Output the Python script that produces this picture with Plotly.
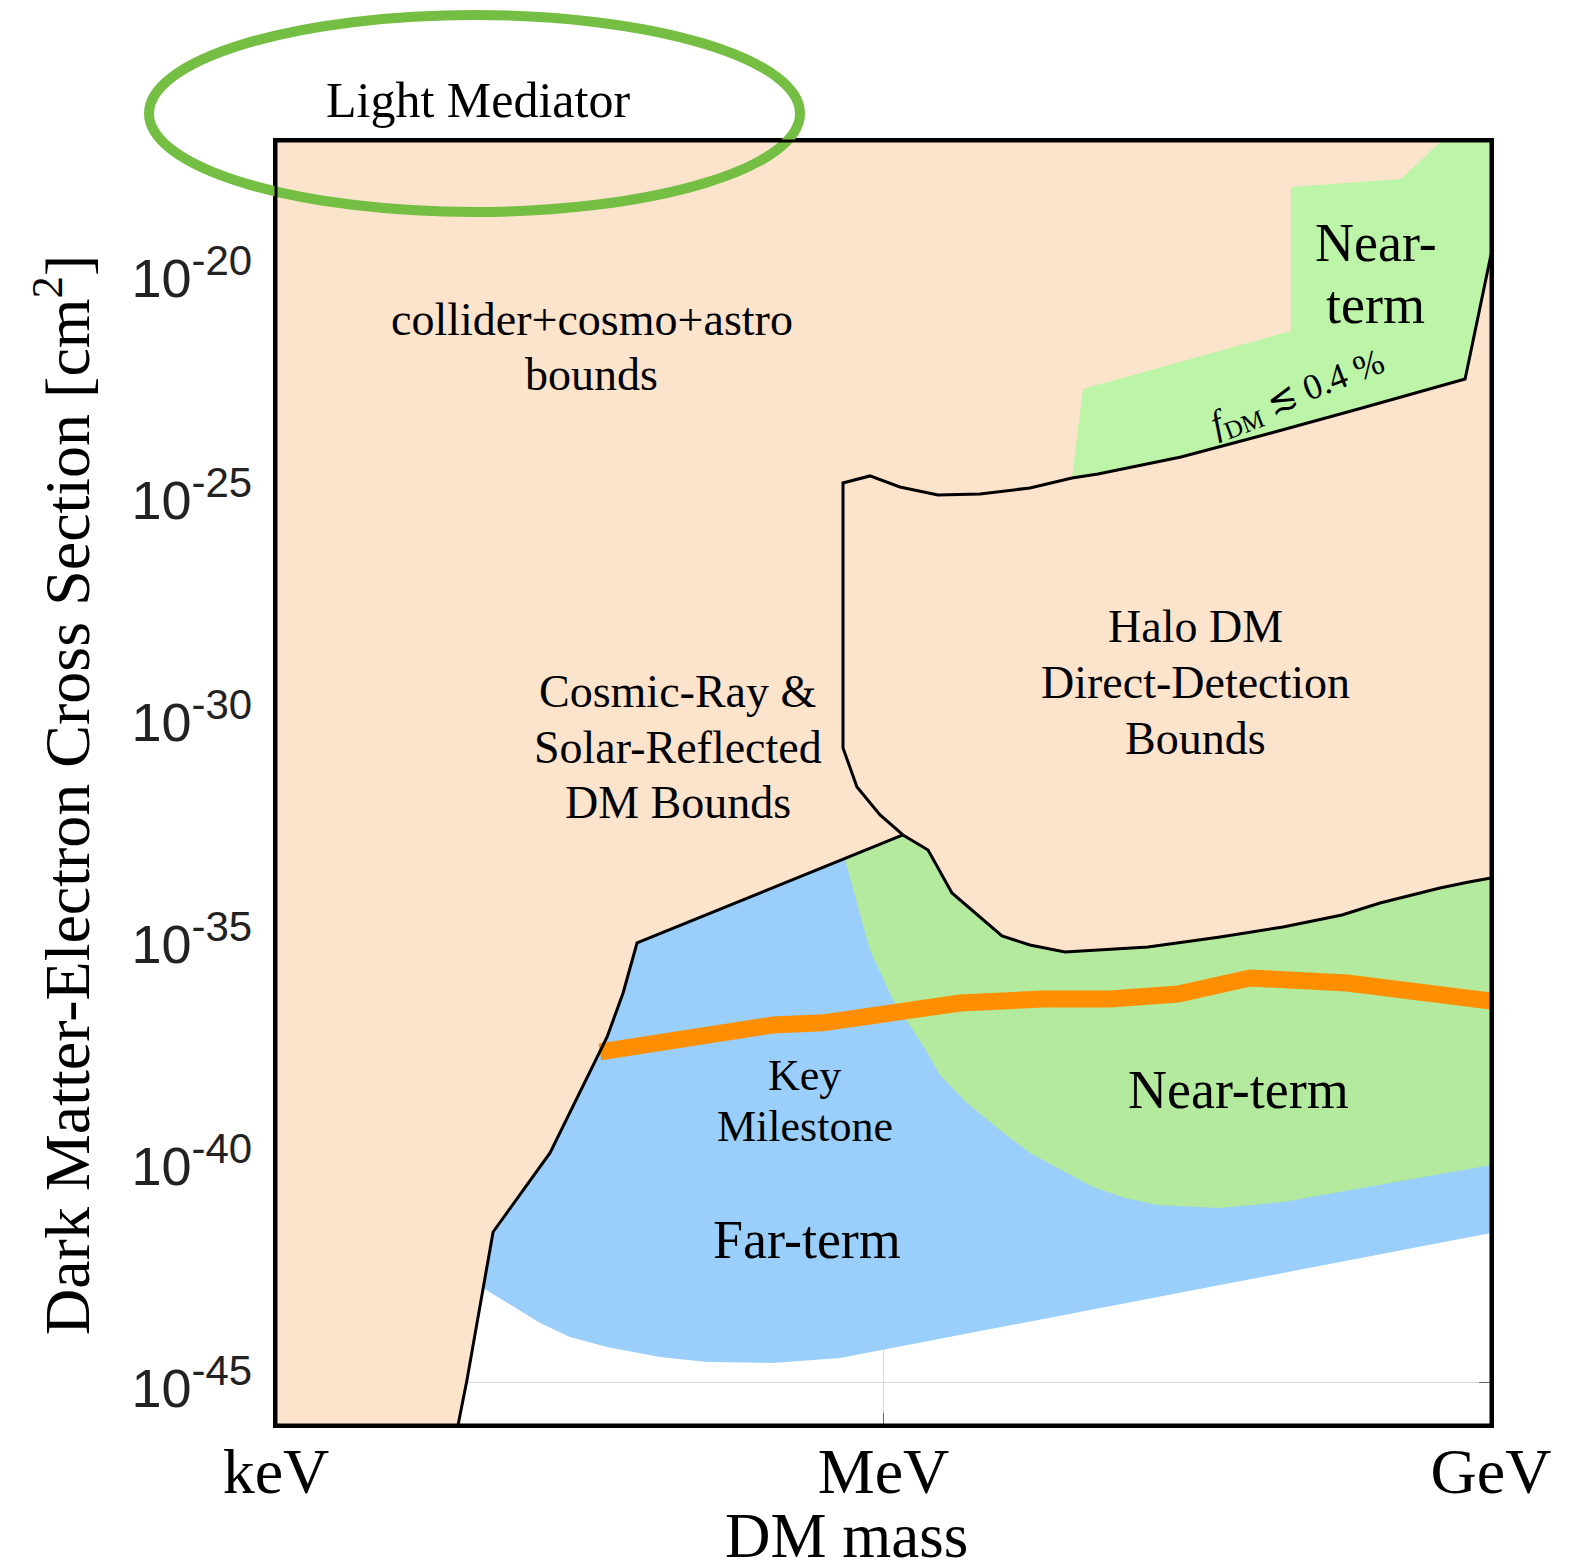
import plotly.graph_objects as go

# ---------------- data (log10 of mass in eV, log10 of cross section in cm^2) ----------------
# Cosmic-ray / solar-reflected boundary line (black), bottom -> junction with halo region
BOUND_LOGM = [3.899, 3.943, 4.072, 4.353, 4.635, 4.714, 4.783, 6.096]
BOUND_LOGS = [-45.957, -44.944, -41.610, -39.831, -37.218, -36.228, -35.101, -32.669]

# Halo DM direct-detection region: outline from junction, up the left side, along the top
HALO_TOP_LOGM = [6.096, 5.983, 5.869, 5.800, 5.800, 5.933, 6.081, 6.269, 6.477, 6.723,
                 6.931, 7.059, 7.469, 7.914, 8.363, 8.872, 9.000]
HALO_TOP_LOGS = [-32.669, -32.218, -31.588, -30.709, -24.741, -24.583, -24.831, -25.011, -24.989, -24.854,
                 -24.628, -24.538, -24.155, -23.615, -23.052, -22.399, -19.600]

# Halo DM region floor (black), junction -> right axis
HALO_FLOOR_LOGM = [6.096, 6.220, 6.338, 6.412, 6.585, 6.723, 6.896, 7.306, 7.662, 7.973,
                   8.264, 8.452, 8.748, 8.891, 9.000]
HALO_FLOOR_LOGS = [-32.669, -33.007, -33.975, -34.268, -34.944, -35.146, -35.304, -35.191, -34.966, -34.741,
                   -34.471, -34.200, -33.863, -33.727, -33.637]

# Far-term reach (lower edge), right axis -> left boundary line
FAR_LOWER_LOGM = [9.000, 6.081, 5.785, 5.454, 5.128, 4.896, 4.635, 4.452, 4.304, 4.022]
FAR_LOWER_LOGS = [-41.633, -44.200, -44.448, -44.561, -44.538, -44.426, -44.200, -43.975, -43.660, -42.872]

# Near-term reach (lower edge), right axis -> boundary line
NEAR_EDGE_LOGM = [9.000, 8.393, 7.973, 7.662, 7.351, 7.193, 7.035, 6.723, 6.575, 6.412,
                  6.279, 6.200, 6.047, 5.933, 5.864, 5.810]
NEAR_EDGE_LOGS = [-40.101, -40.597, -40.935, -41.070, -41.002, -40.845, -40.597, -39.831, -39.313, -38.705,
                  -38.074, -37.444, -36.385, -35.259, -34.133, -33.221]

# Near-term reach for sub-component DM (f_DM <~ 0.4%), upper/left edge
FDM_EDGE_LOGM = [6.931, 6.985, 8.012, 8.012, 8.556, 8.763, 9.000]
FDM_EDGE_LOGS = [-24.628, -22.624, -21.318, -18.074, -17.894, -17.000, -17.000]

# Key milestone (orange)
MILESTONE_LOGM = [4.600, 5.094, 5.454, 5.701, 6.081, 6.378, 6.788, 7.119, 7.454, 7.588,
                  7.810, 8.289, 8.704, 9.000]
MILESTONE_LOGS = [-37.556, -37.196, -36.950, -36.900, -36.610, -36.453, -36.363, -36.363, -36.250, -36.092,
                  -35.890, -36.002, -36.228, -36.408]

X_TICK_LOG = [3, 6, 9]
X_TICK_TEXT = ["keV", "MeV", "GeV"]
Y_TICK_LOG = [-20, -25, -30, -35, -40, -45]

X_RANGE = [3.0, 9.0]
Y_RANGE = [-45.957, -17.04]

# ---------------- helpers ----------------
def p(v):
    return [10.0 ** a for a in v]

PEACH = "#FCE3CC"
BLUE = "#99CFFA"
GREEN_LOW = "#B3EA9E"
GREEN_TOP = "#BCF5A7"
ORANGE = "#FF8F00"
SERIF = "Liberation Serif"
SANS = "Liberation Sans"

fig = go.Figure()

# peach: everything above the black boundary
peach_x = [X_RANGE[0] - 0.1, BOUND_LOGM[0]] + BOUND_LOGM[1:] + HALO_FLOOR_LOGM[1:] + \
          [X_RANGE[1] + 0.1, X_RANGE[1] + 0.1, X_RANGE[0] - 0.1]
peach_y = [Y_RANGE[0] - 0.3, Y_RANGE[0] - 0.3] + BOUND_LOGS[1:] + HALO_FLOOR_LOGS[1:] + \
          [HALO_FLOOR_LOGS[-1], Y_RANGE[1] + 0.3, Y_RANGE[1] + 0.3]
fig.add_trace(go.Scatter(x=p(peach_x), y=p(peach_y), fill="toself", fillcolor=PEACH,
                         mode="lines", line=dict(width=0, color=PEACH), hoverinfo="skip"))

# blue: far-term
blue_x = [FAR_LOWER_LOGM[-1]] + BOUND_LOGM[2:] + HALO_FLOOR_LOGM[1:] + FAR_LOWER_LOGM
blue_y = [FAR_LOWER_LOGS[-1]] + BOUND_LOGS[2:] + HALO_FLOOR_LOGS[1:] + FAR_LOWER_LOGS
fig.add_trace(go.Scatter(x=p(blue_x), y=p(blue_y), fill="toself", fillcolor=BLUE,
                         mode="lines", line=dict(width=0, color=BLUE), hoverinfo="skip"))

# green: near-term
green_x = HALO_FLOOR_LOGM + NEAR_EDGE_LOGM
green_y = HALO_FLOOR_LOGS + NEAR_EDGE_LOGS
fig.add_trace(go.Scatter(x=p(green_x), y=p(green_y), fill="toself", fillcolor=GREEN_LOW,
                         mode="lines", line=dict(width=0, color=GREEN_LOW), hoverinfo="skip"))

# green: near-term, sub-component
top_x = FDM_EDGE_LOGM + [X_RANGE[1] + 0.1] + HALO_TOP_LOGM[16:9:-1]
top_y = FDM_EDGE_LOGS + [HALO_TOP_LOGS[16]] + HALO_TOP_LOGS[16:9:-1]
fig.add_trace(go.Scatter(x=p(top_x), y=p(top_y), fill="toself", fillcolor=GREEN_TOP,
                         mode="lines", line=dict(width=0, color=GREEN_TOP), hoverinfo="skip"))

# orange key milestone
fig.add_trace(go.Scatter(x=p(MILESTONE_LOGM), y=p(MILESTONE_LOGS), mode="lines",
                         line=dict(width=17, color=ORANGE), hoverinfo="skip"))

# black boundary lines
for xs, ys in [(BOUND_LOGM, BOUND_LOGS), (HALO_TOP_LOGM, HALO_TOP_LOGS), (HALO_FLOOR_LOGM, HALO_FLOOR_LOGS)]:
    fig.add_trace(go.Scatter(x=p(xs), y=p(ys), mode="lines",
                             line=dict(width=3, color="black"), hoverinfo="skip"))

# ---------------- labels ----------------
def lab(text, x, y, size, angle=0):
    fig.add_annotation(text=text, x=x, y=y, xref="x", yref="y", showarrow=False,
                       xanchor="center", yanchor="middle",
                       textangle=angle, font=dict(family=SERIF, size=size, color="black"))

lab("collider+cosmo+astro", 4.560, -21.070, 46)
lab("bounds", 4.560, -22.309, 46)
lab("Cosmic-Ray &amp;", 4.985, -29.448, 46)
lab("Solar-Reflected", 4.985, -30.709, 46)
lab("DM Bounds", 4.985, -31.948, 46)
lab("Halo DM", 7.543, -27.984, 46)
lab("Direct-Detection", 7.543, -29.245, 46)
lab("Bounds", 7.543, -30.507, 46)
lab("Near-", 8.432, -19.336, 54)
lab("term", 8.432, -20.732, 54)
lab("<i>f</i><sub>DM</sub> ≲ 0.4 %", 8.050, -22.76, 36, angle=-21)
lab("Key", 5.612, -38.097, 44)
lab("Milestone", 5.612, -39.245, 44)
lab("Near-term", 7.751, -38.412, 54)
lab("Far-term", 5.622, -41.791, 54)

def paper_lab(text, px, py, size, angle=0):
    fig.add_annotation(text=text, x=(px - 276) / 1215, y=(1425 - py) / 1284,
                       xref="paper", yref="paper", showarrow=False,
                       xanchor="center", yanchor="middle", textangle=angle,
                       font=dict(family=SERIF, size=size, color="black"))

paper_lab("Light Mediator", 478, 100, 50)
paper_lab("DM mass", 846, 1536, 63)
paper_lab("Dark Matter-Electron Cross Section [cm<sup>2</sup>]", 62, 795, 64, angle=-90)

fig.add_shape(type="circle", xref="paper", yref="paper",
              x0=(149 - 276) / 1215, x1=(800 - 276) / 1215,
              y0=(1425 - 212) / 1284, y1=(1425 - 15) / 1284,
              line=dict(color="#74BE44", width=10))
# plot frame on top of the filled regions
fig.add_shape(type="rect", xref="paper", yref="paper", x0=0, x1=1, y0=0, y1=1,
              line=dict(color="black", width=3), layer="above")

y_ticktext = ["10<sup><span style='font-size:42px'>-%d</span></sup>" % (-v) for v in Y_TICK_LOG]

# the page body has an 8px margin; size the figure so the plot area lands where it should
fig.update_layout(
    width=1561, height=1559,
    margin=dict(l=268, r=78, t=133, b=142, pad=0),
    plot_bgcolor="white", paper_bgcolor="white",
    showlegend=False,
    xaxis=dict(type="log", range=X_RANGE, tickvals=p(X_TICK_LOG), ticktext=X_TICK_TEXT,
               showgrid=True, gridcolor="#d9d9d9", gridwidth=1, zeroline=False,
               showline=True, linecolor="black", linewidth=3, mirror="ticks",
               ticks="inside", ticklen=12, tickcolor="#666", tickwidth=1, layer="below traces",
               tickfont=dict(family=SERIF, size=64, color="black"), ticklabelstandoff=-12),
    yaxis=dict(type="log", range=Y_RANGE, tickvals=p(Y_TICK_LOG), ticktext=y_ticktext,
               showgrid=True, gridcolor="#d9d9d9", gridwidth=1, zeroline=False,
               showline=True, linecolor="black", linewidth=3, mirror="ticks",
               ticks="inside", ticklen=12, tickcolor="#666", tickwidth=1, layer="below traces",
               tickfont=dict(family=SANS, size=54, color="#222"), ticklabelstandoff=10,
               ticklabelshift=6),
)

fig.write_html("out.html")
